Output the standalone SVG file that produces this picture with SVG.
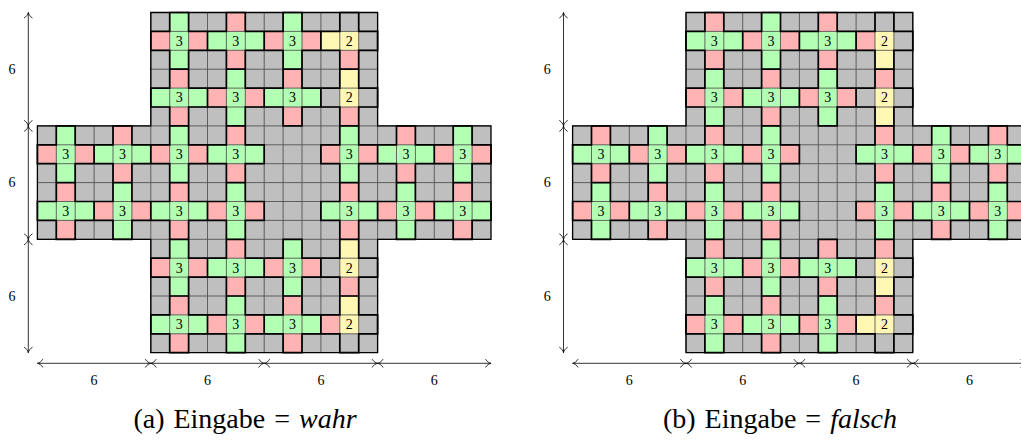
<svg xmlns="http://www.w3.org/2000/svg" xmlns:xlink="http://www.w3.org/1999/xlink" width="1021" height="445" viewBox="0 0 1021 445">
<style>
.gy{fill:#bfbfbf}
.gn{fill:#b3ffb3}
.rd{fill:#ffb3b3}
.yl{fill:#fff7b3}
.grid{fill:none;stroke:#4d4d4d;stroke-width:0.045}
.gad{fill:none;stroke:#000;stroke-width:0.09;stroke-linejoin:miter}
.out{fill:none;stroke:#000;stroke-width:0.07}
.dim{fill:none;stroke:#000;stroke-width:0.8;marker-start:url(#ah);marker-end:url(#ah)}
</style>
<defs>
<marker id="ah" markerUnits="userSpaceOnUse" markerWidth="12" markerHeight="12" viewBox="-6 -6 12 12" refX="0" refY="0" orient="auto-start-reverse" overflow="visible">
<path d="M-5.5,-4.2 C-4.2,-1.6 -1.4,-0.3 0,0 C-1.4,0.3 -4.2,1.6 -5.5,4.2" fill="none" stroke="#000" stroke-width="0.8"/>
</marker>
<path id="crossShape" d="M6 0H18V6H24V12H18V18H6V12H0V6H6Z"/>
<path id="gridLines" d="M6 1H18M6 2H18M6 3H18M6 4H18M6 5H18M0 6H24M0 7H24M0 8H24M0 9H24M0 10H24M0 11H24M0 12H24M6 13H18M6 14H18M6 15H18M6 16H18M6 17H18M1 6V12M2 6V12M3 6V12M4 6V12M5 6V12M6 0V18M7 0V18M8 0V18M9 0V18M10 0V18M11 0V18M12 0V18M13 0V18M14 0V18M15 0V18M16 0V18M17 0V18M18 0V18M19 6V12M20 6V12M21 6V12M22 6V12M23 6V12"/>
<path id="gadgets" d="M7 1v-1h1v1h1v1h-1v1h-1v-1h-1v-1zM10 1v-1h1v1h1v1h-1v1h-1v-1h-1v-1zM13 1v-1h1v1h1v1h-1v1h-1v-1h-1v-1zM16 1v-1h1v1h1v1h-1v1h-1v-1h-1v-1zM7 4v-1h1v1h1v1h-1v1h-1v-1h-1v-1zM10 4v-1h1v1h1v1h-1v1h-1v-1h-1v-1zM13 4v-1h1v1h1v1h-1v1h-1v-1h-1v-1zM16 4v-1h1v1h1v1h-1v1h-1v-1h-1v-1zM1 7v-1h1v1h1v1h-1v1h-1v-1h-1v-1zM4 7v-1h1v1h1v1h-1v1h-1v-1h-1v-1zM7 7v-1h1v1h1v1h-1v1h-1v-1h-1v-1zM10 7v-1h1v1h1v1h-1v1h-1v-1h-1v-1zM16 7v-1h1v1h1v1h-1v1h-1v-1h-1v-1zM19 7v-1h1v1h1v1h-1v1h-1v-1h-1v-1zM22 7v-1h1v1h1v1h-1v1h-1v-1h-1v-1zM1 10v-1h1v1h1v1h-1v1h-1v-1h-1v-1zM4 10v-1h1v1h1v1h-1v1h-1v-1h-1v-1zM7 10v-1h1v1h1v1h-1v1h-1v-1h-1v-1zM10 10v-1h1v1h1v1h-1v1h-1v-1h-1v-1zM16 10v-1h1v1h1v1h-1v1h-1v-1h-1v-1zM19 10v-1h1v1h1v1h-1v1h-1v-1h-1v-1zM22 10v-1h1v1h1v1h-1v1h-1v-1h-1v-1zM7 13v-1h1v1h1v1h-1v1h-1v-1h-1v-1zM10 13v-1h1v1h1v1h-1v1h-1v-1h-1v-1zM13 13v-1h1v1h1v1h-1v1h-1v-1h-1v-1zM16 13v-1h1v1h1v1h-1v1h-1v-1h-1v-1zM7 16v-1h1v1h1v1h-1v1h-1v-1h-1v-1zM10 16v-1h1v1h1v1h-1v1h-1v-1h-1v-1zM13 16v-1h1v1h1v1h-1v1h-1v-1h-1v-1zM16 16v-1h1v1h1v1h-1v1h-1v-1h-1v-1z"/>
<g id="labels" font-family="'Liberation Serif', 'DejaVu Serif', serif" font-size="14" text-anchor="middle" fill="#000">
<text x="141.75" y="33.2">3</text><text x="198.45" y="33.2">3</text><text x="255.15" y="33.2">3</text><text x="311.85" y="33.2">2</text>
<text x="141.75" y="89.9">3</text><text x="198.45" y="89.9">3</text><text x="255.15" y="89.9">3</text><text x="311.85" y="89.9">2</text>
<text x="28.35" y="146.6">3</text><text x="85.05" y="146.6">3</text><text x="141.75" y="146.6">3</text><text x="198.45" y="146.6">3</text><text x="311.85" y="146.6">3</text><text x="368.55" y="146.6">3</text><text x="425.25" y="146.6">3</text>
<text x="28.35" y="203.3">3</text><text x="85.05" y="203.3">3</text><text x="141.75" y="203.3">3</text><text x="198.45" y="203.3">3</text><text x="311.85" y="203.3">3</text><text x="368.55" y="203.3">3</text><text x="425.25" y="203.3">3</text>
<text x="141.75" y="260">3</text><text x="198.45" y="260">3</text><text x="255.15" y="260">3</text><text x="311.85" y="260">2</text>
<text x="141.75" y="316.7">3</text><text x="198.45" y="316.7">3</text><text x="255.15" y="316.7">3</text><text x="311.85" y="316.7">2</text>
</g>
</defs>

<g id="panel-a" transform="translate(37.4,12.5)">
<g id="panel-a-cells" transform="scale(18.9)">
<use xlink:href="#crossShape" class="gy"/>
<path class="gn" d="M7 0h1v1h-1zM13 0h1v1h-1zM7 1h1v1h-1zM9 1h3v1h-3zM13 1h1v1h-1zM7 2h1v1h-1zM13 2h1v1h-1zM10 3h1v1h-1zM6 4h3v1h-3zM10 4h1v1h-1zM12 4h3v1h-3zM10 5h1v1h-1zM1 6h1v1h-1zM7 6h1v1h-1zM16 6h1v1h-1zM22 6h1v1h-1zM1 7h1v1h-1zM3 7h3v1h-3zM7 7h1v1h-1zM9 7h3v1h-3zM16 7h1v1h-1zM18 7h3v1h-3zM22 7h1v1h-1zM1 8h1v1h-1zM7 8h1v1h-1zM16 8h1v1h-1zM22 8h1v1h-1zM4 9h1v1h-1zM10 9h1v1h-1zM19 9h1v1h-1zM0 10h3v1h-3zM4 10h1v1h-1zM6 10h3v1h-3zM10 10h1v1h-1zM15 10h3v1h-3zM19 10h1v1h-1zM21 10h3v1h-3zM4 11h1v1h-1zM10 11h1v1h-1zM19 11h1v1h-1zM7 12h1v1h-1zM13 12h1v1h-1zM7 13h1v1h-1zM9 13h3v1h-3zM13 13h1v1h-1zM7 14h1v1h-1zM13 14h1v1h-1zM10 15h1v1h-1zM6 16h3v1h-3zM10 16h1v1h-1zM12 16h3v1h-3zM10 17h1v1h-1z"/>
<path class="rd" d="M10 0h1v1h-1zM6 1h1v1h-1zM8 1h1v1h-1zM12 1h1v1h-1zM14 1h1v1h-1zM10 2h1v1h-1zM16 2h1v1h-1zM7 3h1v1h-1zM13 3h1v1h-1zM9 4h1v1h-1zM11 4h1v1h-1zM7 5h1v1h-1zM13 5h1v1h-1zM16 5h1v1h-1zM4 6h1v1h-1zM10 6h1v1h-1zM19 6h1v1h-1zM0 7h1v1h-1zM2 7h1v1h-1zM6 7h1v1h-1zM8 7h1v1h-1zM15 7h1v1h-1zM17 7h1v1h-1zM21 7h1v1h-1zM23 7h1v1h-1zM4 8h1v1h-1zM10 8h1v1h-1zM19 8h1v1h-1zM1 9h1v1h-1zM7 9h1v1h-1zM16 9h1v1h-1zM22 9h1v1h-1zM3 10h1v1h-1zM5 10h1v1h-1zM9 10h1v1h-1zM11 10h1v1h-1zM18 10h1v1h-1zM20 10h1v1h-1zM1 11h1v1h-1zM7 11h1v1h-1zM16 11h1v1h-1zM22 11h1v1h-1zM10 12h1v1h-1zM6 13h1v1h-1zM8 13h1v1h-1zM12 13h1v1h-1zM14 13h1v1h-1zM10 14h1v1h-1zM16 14h1v1h-1zM7 15h1v1h-1zM13 15h1v1h-1zM9 16h1v1h-1zM11 16h1v1h-1zM15 16h1v1h-1zM7 17h1v1h-1zM13 17h1v1h-1z"/>
<path class="yl" d="M15 1h2v1h-2zM16 3h1v2h-1zM16 12h1v2h-1zM16 15h1v2h-1z"/>
<use xlink:href="#gridLines" class="grid"/>
<use xlink:href="#gadgets" class="gad"/>
<use xlink:href="#crossShape" class="out"/>
</g>
<use xlink:href="#labels"/>
</g>

<g id="panel-b" transform="translate(572.6,12.5)">
<g id="panel-b-cells" transform="scale(18.9)">
<use xlink:href="#crossShape" class="gy"/>
<path class="gn" d="M10 0h1v1h-1zM6 1h3v1h-3zM10 1h1v1h-1zM12 1h3v1h-3zM10 2h1v1h-1zM7 3h1v1h-1zM13 3h1v1h-1zM7 4h1v1h-1zM9 4h3v1h-3zM13 4h1v1h-1zM7 5h1v1h-1zM13 5h1v1h-1zM4 6h1v1h-1zM10 6h1v1h-1zM19 6h1v1h-1zM0 7h3v1h-3zM4 7h1v1h-1zM6 7h3v1h-3zM10 7h1v1h-1zM15 7h3v1h-3zM19 7h1v1h-1zM21 7h3v1h-3zM4 8h1v1h-1zM10 8h1v1h-1zM19 8h1v1h-1zM1 9h1v1h-1zM7 9h1v1h-1zM16 9h1v1h-1zM22 9h1v1h-1zM1 10h1v1h-1zM3 10h3v1h-3zM7 10h1v1h-1zM9 10h3v1h-3zM16 10h1v1h-1zM18 10h3v1h-3zM22 10h1v1h-1zM1 11h1v1h-1zM7 11h1v1h-1zM16 11h1v1h-1zM22 11h1v1h-1zM10 12h1v1h-1zM6 13h3v1h-3zM10 13h1v1h-1zM12 13h3v1h-3zM10 14h1v1h-1zM7 15h1v1h-1zM13 15h1v1h-1zM7 16h1v1h-1zM9 16h3v1h-3zM13 16h1v1h-1zM7 17h1v1h-1zM13 17h1v1h-1z"/>
<path class="rd" d="M7 0h1v1h-1zM13 0h1v1h-1zM9 1h1v1h-1zM11 1h1v1h-1zM15 1h1v1h-1zM7 2h1v1h-1zM13 2h1v1h-1zM10 3h1v1h-1zM16 3h1v1h-1zM6 4h1v1h-1zM8 4h1v1h-1zM12 4h1v1h-1zM14 4h1v1h-1zM10 5h1v1h-1zM1 6h1v1h-1zM7 6h1v1h-1zM16 6h1v1h-1zM22 6h1v1h-1zM3 7h1v1h-1zM5 7h1v1h-1zM9 7h1v1h-1zM11 7h1v1h-1zM18 7h1v1h-1zM20 7h1v1h-1zM1 8h1v1h-1zM7 8h1v1h-1zM16 8h1v1h-1zM22 8h1v1h-1zM4 9h1v1h-1zM10 9h1v1h-1zM19 9h1v1h-1zM0 10h1v1h-1zM2 10h1v1h-1zM6 10h1v1h-1zM8 10h1v1h-1zM15 10h1v1h-1zM17 10h1v1h-1zM21 10h1v1h-1zM23 10h1v1h-1zM4 11h1v1h-1zM10 11h1v1h-1zM19 11h1v1h-1zM7 12h1v1h-1zM13 12h1v1h-1zM16 12h1v1h-1zM9 13h1v1h-1zM11 13h1v1h-1zM7 14h1v1h-1zM13 14h1v1h-1zM10 15h1v1h-1zM16 15h1v1h-1zM6 16h1v1h-1zM8 16h1v1h-1zM12 16h1v1h-1zM14 16h1v1h-1zM10 17h1v1h-1z"/>
<path class="yl" d="M16 1h1v2h-1zM16 4h1v2h-1zM16 13h1v2h-1zM15 16h2v1h-2z"/>
<use xlink:href="#gridLines" class="grid"/>
<use xlink:href="#gadgets" class="gad"/>
<use xlink:href="#crossShape" class="out"/>
</g>
<use xlink:href="#labels"/>
</g>

<g id="dimensions">
<line class="dim" x1="28.3" y1="12.5" x2="28.3" y2="125.9"/>
<line class="dim" x1="28.3" y1="125.9" x2="28.3" y2="239.3"/>
<line class="dim" x1="28.3" y1="239.3" x2="28.3" y2="352.7"/>
<line class="dim" x1="37.4" y1="363.3" x2="150.8" y2="363.3"/>
<line class="dim" x1="150.8" y1="363.3" x2="264.2" y2="363.3"/>
<line class="dim" x1="264.2" y1="363.3" x2="377.6" y2="363.3"/>
<line class="dim" x1="377.6" y1="363.3" x2="491" y2="363.3"/>
<line class="dim" x1="563.5" y1="12.5" x2="563.5" y2="125.9"/>
<line class="dim" x1="563.5" y1="125.9" x2="563.5" y2="239.3"/>
<line class="dim" x1="563.5" y1="239.3" x2="563.5" y2="352.7"/>
<line class="dim" x1="572.6" y1="363.3" x2="686" y2="363.3"/>
<line class="dim" x1="686" y1="363.3" x2="799.4" y2="363.3"/>
<line class="dim" x1="799.4" y1="363.3" x2="912.8" y2="363.3"/>
<line class="dim" x1="912.8" y1="363.3" x2="1026.2" y2="363.3"/>
</g>

<g id="dimension-labels" font-family="'Liberation Serif', 'DejaVu Serif', serif" font-size="14" text-anchor="middle" fill="#000">
<text x="12" y="74">6</text><text x="12" y="187.4">6</text><text x="12" y="300.8">6</text>
<text x="94.1" y="385">6</text><text x="207.5" y="385">6</text><text x="320.9" y="385">6</text><text x="434.3" y="385">6</text>
<text x="547.2" y="74">6</text><text x="547.2" y="187.4">6</text><text x="547.2" y="300.8">6</text>
<text x="629.3" y="385">6</text><text x="742.7" y="385">6</text><text x="856.1" y="385">6</text><text x="969.5" y="385">6</text>
</g>

<g id="captions" font-family="'Liberation Serif', 'DejaVu Serif', serif" font-size="28" text-anchor="middle" fill="#000" word-spacing="2">
<text x="245" y="428">(a) Eingabe = <tspan font-style="italic">wahr</tspan></text>
<text x="780" y="428">(b) Eingabe = <tspan font-style="italic">falsch</tspan></text>
</g>
</svg>
